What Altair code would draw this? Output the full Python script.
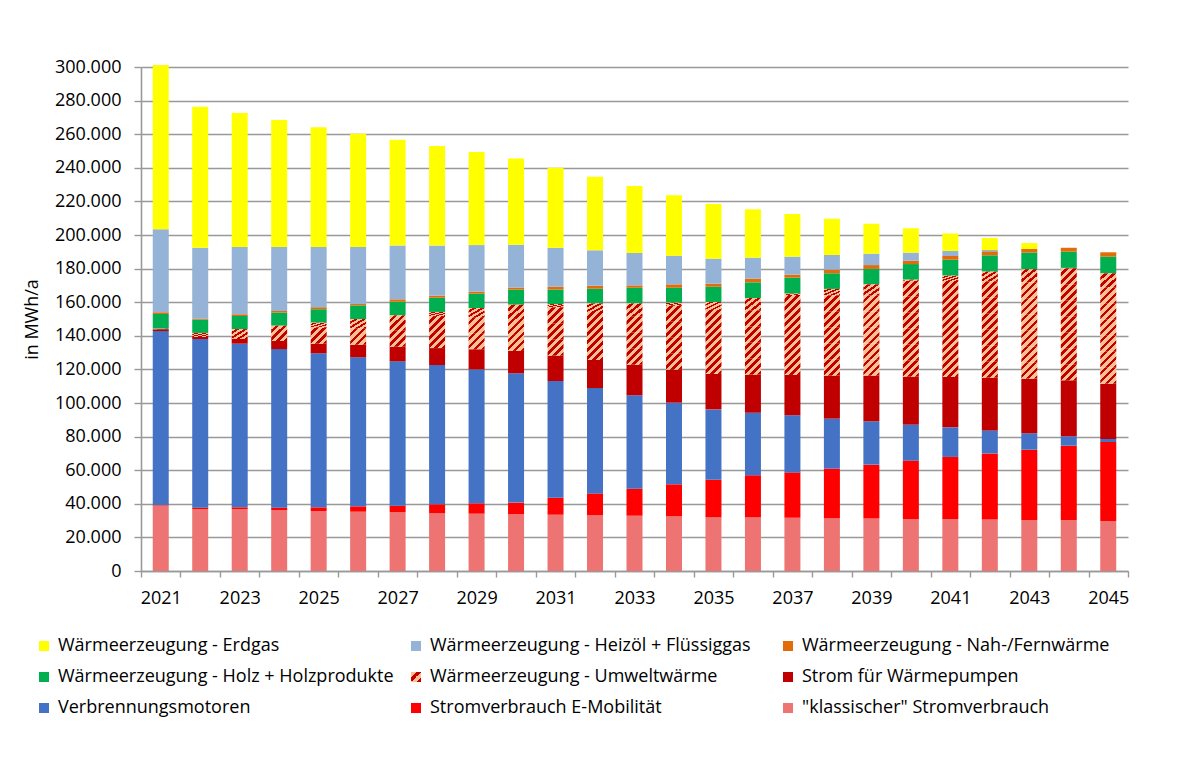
import altair as alt
import pandas as pd

years = list(range(2021, 2046))

# values in 1.000 MWh/a
klassisch = [39.0, 36.9, 36.9, 36.3, 35.7, 35.3, 35.1, 34.5, 34.1, 33.7, 33.5, 33.3, 32.9,
             32.7, 32.1, 32.1, 31.7, 31.5, 31.3, 31.0, 31.0, 30.6, 30.4, 30.2, 29.8]
emob = [0.3, 0.8, 1.0, 1.4, 2.2, 3.2, 3.8, 5.2, 6.2, 7.0, 10.1, 12.9, 16.1,
        18.9, 22.2, 24.9, 27.0, 29.4, 32.0, 34.7, 36.9, 39.4, 41.8, 44.4, 47.0]
verbrenner = [103.5, 100.4, 97.4, 94.4, 91.7, 88.7, 85.9, 82.9, 79.7, 77.0, 69.5, 62.7, 55.6,
              48.6, 41.9, 37.2, 34.0, 29.8, 25.8, 21.4, 17.6, 13.7, 9.8, 5.6, 1.8]
strom_wp = [1.1, 1.2, 2.8, 4.8, 5.7, 7.5, 8.7, 10.1, 12.0, 13.3, 15.1, 16.7, 18.2,
            19.6, 21.1, 22.7, 24.0, 25.6, 27.2, 28.6, 30.0, 31.4, 32.5, 33.3, 32.9]
umwelt = [0.3, 2.4, 5.9, 9.1, 12.5, 15.3, 18.7, 21.5, 24.5, 27.5, 30.7, 33.7, 36.5,
          39.9, 42.8, 45.6, 48.4, 51.6, 54.3, 57.7, 60.3, 63.1, 65.1, 66.9, 65.7]
holz = [8.8, 7.9, 7.8, 7.8, 8.0, 8.1, 8.1, 8.5, 8.6, 9.0, 8.6, 8.7, 9.3,
        8.9, 9.1, 9.3, 9.5, 9.3, 9.2, 9.3, 9.5, 9.7, 9.9, 9.7, 9.9]
nahwaerme = [1.0, 0.6, 1.0, 1.0, 1.2, 0.8, 1.4, 1.2, 1.2, 1.2, 1.7, 1.8, 1.4,
             2.0, 1.8, 2.2, 1.8, 2.2, 2.3, 2.0, 2.2, 2.4, 2.2, 2.3, 2.6]
heizoel = [49.4, 42.2, 40.1, 38.1, 35.9, 34.0, 32.0, 29.8, 27.7, 25.5, 23.2, 21.1, 19.3,
           17.1, 14.9, 12.5, 10.7, 8.7, 6.8, 4.8, 3.0, 0.8, 0.0, 0.0, 0.0]
erdgas = [97.8, 84.0, 79.7, 75.6, 71.2, 67.4, 63.0, 59.3, 55.4, 51.4, 47.7, 43.8, 39.9,
          35.9, 32.6, 28.8, 25.4, 21.6, 17.8, 14.5, 10.4, 7.1, 3.5, 0.0, 0.0]

N_ERDGAS = "Wärmeerzeugung - Erdgas"
N_HEIZOEL = "Wärmeerzeugung - Heizöl + Flüssiggas"
N_NAH = "Wärmeerzeugung - Nah-/Fernwärme"
N_HOLZ = "Wärmeerzeugung - Holz + Holzprodukte"
N_UMWELT = "Wärmeerzeugung - Umweltwärme"
N_WP = "Strom für Wärmepumpen"
N_VERB = "Verbrennungsmotoren"
N_EMOB = "Stromverbrauch E-Mobilität"
N_KLASS = "\"klassischer\" Stromverbrauch"

legend_names = [N_ERDGAS, N_HEIZOEL, N_NAH, N_HOLZ, N_UMWELT, N_WP, N_VERB, N_EMOB, N_KLASS]
legend_colors = ["#FFFF00", "#95B3D7", "#E26B0A", "#00B050", "#E89A6E", "#C00000",
                 "#4472C4", "#FF0000", "#EE7373"]
colour_of = dict(zip(legend_names, legend_colors))

stack = [(N_KLASS, klassisch), (N_EMOB, emob), (N_VERB, verbrenner), (N_WP, strom_wp),
         (N_UMWELT, umwelt), (N_HOLZ, holz), (N_NAH, nahwaerme), (N_HEIZOEL, heizoel),
         (N_ERDGAS, erdgas)]
stack_names = [n for n, _ in stack]
stack_colors = [colour_of[n] for n in stack_names]

PLOT_W, PLOT_H = 987, 504
Y_MAX = 300000
BAR_W = 16
CHUNK = BAR_W * Y_MAX / PLOT_H  # square pieces so that the hatch runs at 45 degrees

rows, hatch_rows = [], []
for i, yr in enumerate(years):
    base = 0.0
    for name, vals in stack:
        v = vals[i] * 1000
        if v <= 0:
            continue
        if name == N_UMWELT:
            lo = base
            while lo < base + v - 1e-6:
                hi = min(lo + CHUNK, base + v)
                hatch_rows.append({"year": yr, "y0": lo, "y1": hi})
                lo = hi
        else:
            rows.append({"year": yr, "series": name, "y0": base, "y1": base + v, "fk": "a"})
        base += v

df = pd.DataFrame(rows)
dfh = pd.DataFrame(hatch_rows)

LIGHT = "#FAC08F"
DARK = "#C00000"


def stripe_stops(n, frac=0.47):
    stops = []
    for k in range(n):
        a, m, b = k / n, (k + 1 - frac) / n, (k + 1) / n
        stops += [alt.GradientStop(color=LIGHT, offset=a), alt.GradientStop(color=LIGHT, offset=m),
                  alt.GradientStop(color=DARK, offset=m), alt.GradientStop(color=DARK, offset=b)]
    return stops


hatch_fill = alt.LinearGradient(gradient="linear", x1=0, y1=0, x2=1, y2=1, stops=stripe_stops(4))


def js_stops(n, frac=0.47):
    parts = []
    for k in range(n):
        a, m, b = k / n, (k + 1 - frac) / n, (k + 1) / n
        parts += [f"{{offset:{a:.4f},color:'{LIGHT}'}}", f"{{offset:{m:.4f},color:'{LIGHT}'}}",
                  f"{{offset:{m:.4f},color:'{DARK}'}}", f"{{offset:{b:.4f},color:'{DARK}'}}"]
    return "[" + ",".join(parts) + "]"


legend_fill_expr = ""
for name, col in zip(legend_names, legend_colors):
    if name == N_UMWELT:
        val = f"{{gradient:'linear',x1:0,y1:0,x2:1,y2:1,stops:{js_stops(2)}}}"
    else:
        val = f"'{col}'"
    legend_fill_expr += f"datum.value === '{name}' ? {val} : "
legend_fill_expr += "'#000000'"

GRID = "#999999"
FONT = "Open Sans"
FS = 18

x_enc = alt.X(
    "year:O",
    scale=alt.Scale(paddingInner=0, paddingOuter=0),
    axis=alt.Axis(title=None, labelAngle=0, tickBand="extent", tickSize=6, tickColor=GRID,
                  tickWidth=1.4, domainColor=GRID, domainWidth=1.6, labelPadding=12,
                  labelFontSize=FS, labelColor="#000000", labelOverlap=False,
                  labelExpr="datum.value % 2 == 1 ? datum.label : ''"),
)
y_scale = alt.Scale(domain=[0, Y_MAX], nice=False)
y_enc = alt.Y(
    "y0:Q",
    scale=y_scale,
    axis=alt.Axis(title="in MWh/a", values=list(range(0, Y_MAX + 1, 20000)), tickCount=40,
                  labelOverlap=False,
                  labelExpr="replace(format(datum.value, ','), ',', '.')",
                  tickSize=7, tickColor=GRID, tickWidth=1.4, domainColor=GRID, domainWidth=1.6,
                  gridColor=GRID, gridWidth=1.4, labelPadding=13, labelFontSize=FS,
                  labelColor="#000000", titleFontSize=FS, titleFontWeight="normal",
                  titleColor="#000000", titlePadding=13),
)
# colour scale keyed in stack order (its domain differs from the legend's, so the
# hidden colour legend is not merged into the visible one)
color_enc = alt.Color("series:N", scale=alt.Scale(domain=stack_names, range=stack_colors),
                      legend=None)

bars = alt.Chart(df).mark_bar(size=BAR_W).encode(
    x=x_enc, y=y_enc, y2="y1:Q", color=color_enc,
)

hatch = alt.Chart(dfh).mark_bar(size=BAR_W, fill=hatch_fill, opacity=1).encode(
    x="year:O", y=alt.Y("y0:Q", scale=y_scale), y2="y1:Q"
)

# invisible points that only carry the legend (so the hatched entry can get its own fill)
legend_layer = alt.Chart(df).mark_point(filled=True, opacity=0, size=1).encode(
    x="year:O",
    y=alt.Y("y0:Q", scale=y_scale),
    fill=alt.Fill("fk:N", legend=None),
    shape=alt.Shape(
        "series:N",
        scale=alt.Scale(domain=legend_names, range=["square"] * len(legend_names)),
        legend=alt.Legend(
            title=None, orient="none", legendX=-106, legendY=570, columns=3,
            direction="horizontal", gridAlign="all", columnPadding=13, rowPadding=13,
            symbolType="square", symbolSize=100, symbolStrokeWidth=0, symbolOpacity=1,
            symbolFillColor=alt.ExprRef(expr=legend_fill_expr),
            labelFontSize=FS, labelColor="#000000", labelOffset=5, labelLimit=500,
        ),
    ),
)

chart = alt.layer(bars, hatch, legend_layer).properties(
    width=PLOT_W, height=PLOT_H,
    autosize=alt.AutoSizeParams(type="none"),
    padding={"left": 133, "top": 59, "right": 45, "bottom": 180},
).configure(font=FONT).configure_view(stroke=None)

chart.save("out.html", embed_options={"renderer": "svg", "actions": False})
